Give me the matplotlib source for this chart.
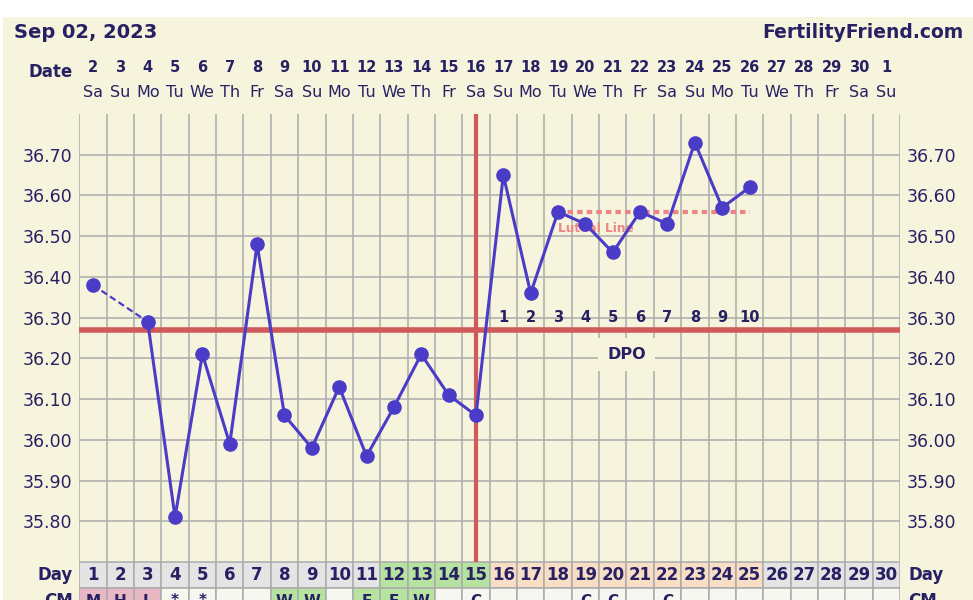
import matplotlib
matplotlib.use("Agg")
import matplotlib.pyplot as plt
import numpy as np
from matplotlib.patches import Rectangle

# ---- data ----------------------------------------------------------------
cycle_days = list(range(1, 31))
dates = [str(d) for d in range(2, 31)] + ["1"]
weekdays = ["Sa", "Su", "Mo", "Tu", "We", "Th", "Fr"] * 4 + ["Sa", "Su"]

temp_days = [1, 3, 4, 5, 6, 7, 8, 9, 10, 11, 12, 13, 14, 15,
             16, 17, 18, 19, 20, 21, 22, 23, 24, 25]
temps = [36.38, 36.29, 35.81, 36.21, 35.99, 36.48, 36.06, 35.98, 36.13, 35.96,
         36.08, 36.21, 36.11, 36.06, 36.65, 36.36, 36.56, 36.53, 36.46, 36.56,
         36.53, 36.73, 36.57, 36.62]

coverline = 36.27
ovulation_day = 15
luteal_level = 36.56
luteal_span = [18, 25]
dpo_days = list(range(16, 26))
dpo_labels = [str(i) for i in range(1, 11)]

ytick_vals = [35.80, 35.90, 36.00, 36.10, 36.20, 36.30, 36.40, 36.50, 36.60, 36.70]

# day-row phase colouring and cervical-mucus row
day_phase = ["n"] * 11 + ["f"] * 4 + ["l"] * 10 + ["n"] * 5
cm_labels = ["M", "H", "L", "*", "*", "", "", "W", "W", "", "E", "E", "W", "", "C",
             "", "", "", "C", "C", "", "C", "", "", "", "", "", "", "", ""]
cm_kind = ["p", "p", "p", "w", "w", "w", "w", "g", "g", "w", "g", "g", "g", "w", "w",
           "w", "w", "w", "w", "w", "w", "w", "w", "w", "w", "w", "w", "w", "w", "w"]

# ---- style -----------------------------------------------------------------
BG = "#F6F4DD"
NAVY = "#272163"
GRID = "#ABABAB"
LINE = "#4B3CC8"
RED = "#D0595A"
SALMON = "#EC8585"
phase_col = {"n": "#E4E4E4", "f": "#B7E3A1", "l": "#F9DEC6"}
cm_col = {"p": "#E7B7C3", "w": "#F7F7F1", "g": "#B7E3A1"}

W, H = 973, 600
fig = plt.figure(figsize=(W / 100, H / 100), dpi=100, facecolor="white")
fig.patches.append(Rectangle((3 / W, 0), 1, (H - 17) / H, transform=fig.transFigure,
                             facecolor=BG, edgecolor="none", zorder=-10))

x0, x1 = 79.3, 900.0
y_top, y_bot = 114.0, 562.0
ax = fig.add_axes([x0 / W, (H - y_bot) / H, (x1 - x0) / W, (y_bot - y_top) / H])
ax.set_facecolor(BG)
ax.set_xlim(0.5, 30.5)
ax.set_ylim(35.70, 36.80)
for s in ax.spines.values():
    s.set_visible(False)

ax.set_xticks(np.arange(0.5, 30.6, 1.0))
ax.set_yticks(ytick_vals)
ax.set_yticks(np.arange(35.70, 36.76, 0.1), minor=True)
ax.grid(True, which="both", color=GRID, lw=1.1, zorder=0)
ax.tick_params(which="both", length=0)
ax.tick_params(axis="x", labelbottom=False)
ax.tick_params(axis="y", labelleft=True, labelright=True, labelsize=12.5,
               labelcolor=NAVY, pad=5)
ax.set_yticklabels([f"{v:.2f}" for v in ytick_vals])

# coverline and ovulation line
ax.axhline(coverline, color=RED, lw=4, zorder=2)
ax.axvline(ovulation_day, color=RED, lw=3, zorder=2)

# luteal line
ax.plot(luteal_span, [luteal_level, luteal_level], ls=(0, (1.3, 1.0)), lw=3,
        color=SALMON, zorder=3)
ax.text(luteal_span[0], luteal_level - 0.04, "Luteal Line", color=SALMON,
        fontsize=8.7, fontweight="bold", ha="left", va="center", zorder=3)

# temperatures: dashed across the missing day, solid otherwise
ax.plot(temp_days[:2], temps[:2], ls=(0, (3, 1.6)), lw=1.6, color=LINE, zorder=4)
ax.plot(temp_days[1:], temps[1:], lw=2.2, color=LINE, zorder=4)
ax.plot(temp_days, temps, ls="none", marker="o", ms=9.5, color=LINE, zorder=5)

# DPO counts
for d, lab in zip(dpo_days, dpo_labels):
    ax.text(d, 36.30, lab, color=NAVY, fontsize=10.5, fontweight="bold",
            ha="center", va="center", zorder=3)
ax.text(20.5, 36.21, "DPO", color=NAVY, fontsize=11.5, fontweight="bold",
        ha="center", va="center", zorder=3,
        bbox=dict(boxstyle="square,pad=0.55", facecolor=BG, edgecolor="none"))

# ---- header: title, dates, weekdays ----------------------------------------
fig.text(14 / W, 1 - 32 / H, "Sep 02, 2023", color=NAVY, fontsize=14,
         fontweight="bold", ha="left", va="center")
fig.text(963 / W, 1 - 32 / H, "FertilityFriend.com", color=NAVY, fontsize=13.5,
         fontweight="bold", ha="right", va="center")
fig.text(73 / W, 1 - 72 / H, "Date", color=NAVY, fontsize=12, fontweight="bold",
         ha="right", va="center")
hdr = ax.get_xaxis_transform()
y_date = 1 + (y_top - 67) / (y_bot - y_top)
y_dow = 1 + (y_top - 93) / (y_bot - y_top)
for d, dt, wd in zip(cycle_days, dates, weekdays):
    ax.text(d, y_date, dt, transform=hdr, color=NAVY, fontsize=10.5,
            fontweight="bold", ha="center", va="center", clip_on=False)
    ax.text(d, y_dow, wd, transform=hdr, color=NAVY, fontsize=11.5,
            ha="center", va="center", clip_on=False)

# ---- day row and CM row ----------------------------------------------------
row_h = 26.0
tab = fig.add_axes([x0 / W, (H - y_bot - 2 * row_h) / H, (x1 - x0) / W, 2 * row_h / H])
tab.set_xlim(0.5, 30.5)
tab.set_ylim(2, 0)
tab.axis("off")
tab.bar(cycle_days, 1, bottom=0, width=1, color=[phase_col[p] for p in day_phase],
        edgecolor=GRID, lw=1.1)
tab.bar(cycle_days, 1, bottom=1, width=1, color=[cm_col[k] for k in cm_kind],
        edgecolor=GRID, lw=1.1)
for d, c in zip(cycle_days, cm_labels):
    tab.text(d, 0.5, str(d), color=NAVY, fontsize=12, fontweight="bold",
             ha="center", va="center")
    if c:
        tab.text(d, 1.5, c, color=NAVY, fontsize=11, fontweight="bold",
                 ha="center", va="center")
for xx, ha in [(0.25, "right"), (30.8, "left")]:
    tab.text(xx, 0.5, "Day", color=NAVY, fontsize=12, fontweight="bold",
             ha=ha, va="center", clip_on=False)
    tab.text(xx, 1.5, "CM", color=NAVY, fontsize=12, fontweight="bold",
             ha=ha, va="center", clip_on=False)

fig.savefig("out.png", dpi=100, facecolor="white")
